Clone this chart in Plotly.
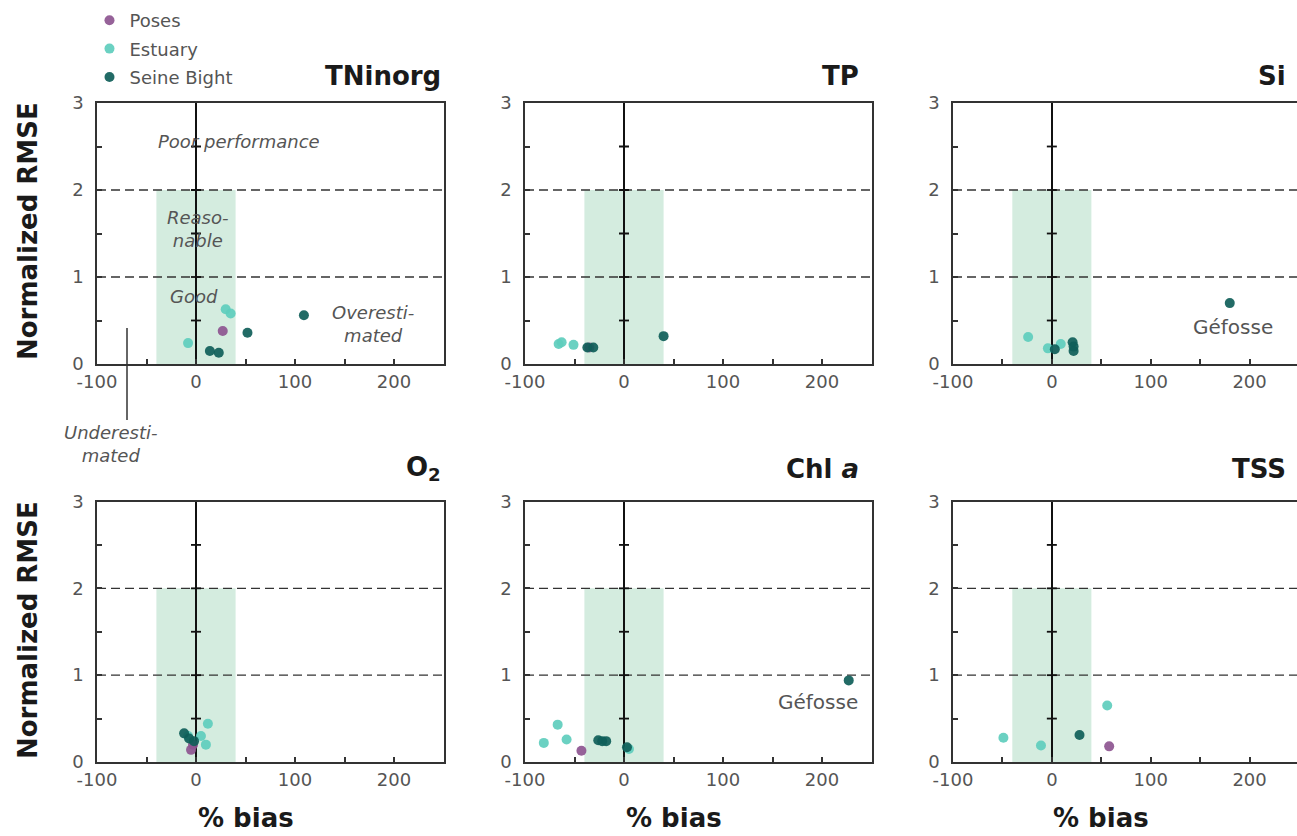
import plotly.graph_objects as go

# ---------------- data ----------------
panels = ["TNinorg", "TP", "Si", "O2", "Chl a", "TSS"]
panel_titles = ["TNinorg", "TP", "Si", "O<sub>2</sub>", "Chl <i>a</i>", "TSS"]

poses_bias = {"TNinorg": [27], "TP": [-35], "Si": [], "O2": [-5, -3], "Chl a": [-43], "TSS": [58]}
poses_rmse = {"TNinorg": [0.38], "TP": [0.19], "Si": [], "O2": [0.14, 0.20], "Chl a": [0.13], "TSS": [0.18]}

estuary_bias = {"TNinorg": [-8, 30, 35], "TP": [-66, -63, -51], "Si": [-24, -4, 9],
                "O2": [-8, 5, 12, 10], "Chl a": [-81, -67, -58, 5], "TSS": [-49, -11, 56]}
estuary_rmse = {"TNinorg": [0.24, 0.63, 0.58], "TP": [0.23, 0.25, 0.22], "Si": [0.31, 0.18, 0.23],
                "O2": [0.30, 0.30, 0.44, 0.20], "Chl a": [0.22, 0.43, 0.26, 0.15], "TSS": [0.28, 0.19, 0.65]}

seine_bias = {"TNinorg": [14, 23, 52, 109], "TP": [-37, -31, 40], "Si": [3, 21, 22, 22, 180],
              "O2": [-12, -7, -2], "Chl a": [-26, -22, -18, 3, 227], "TSS": [28]}
seine_rmse = {"TNinorg": [0.15, 0.13, 0.36, 0.56], "TP": [0.19, 0.19, 0.32], "Si": [0.17, 0.25, 0.20, 0.15, 0.70],
              "O2": [0.33, 0.27, 0.24], "Chl a": [0.25, 0.24, 0.24, 0.17, 0.94], "TSS": [0.31]}

x_ticks = [-100, -50, 0, 50, 100, 150, 200, 250]
x_ticktext = ["-100", " ", "0", " ", "100", " ", "200", " "]
y_ticks = [0, 0.5, 1, 1.5, 2, 2.5, 3]
y_ticktext = ["0", " ", "1", " ", "2", " ", "3"]
minor_y = [0.5, 1, 1.5, 2, 2.5]

colors = {"Poses": "#8d5590", "Estuary": "#5ecdbd", "Seine Bight": "#0f5e59"}
FONT = "DejaVu Sans"
GRAY = "#555555"
W, H = 1297, 836

# ---------------- layout geometry ----------------
col_dom = [[97 / W, 443.5 / W], [525 / W, 871.5 / W], [953 / W, 1.0]]
row_dom = [[1 - 364 / H, 1 - 103 / H], [1 - 762 / H, 1 - 501.5 / H]]
col_range = [[-100, 250], [-100, 250], [-100, 248]]
title_right = [443 / W, 861 / W, 1288 / W]
title_y = [1 - 76 / H, 1 - 469 / H]

fig = go.Figure()
layout = dict(width=W, height=H, margin=dict(l=0, r=0, t=0, b=0, autoexpand=False),
              plot_bgcolor="white", paper_bgcolor="white",
              font=dict(family=FONT, color=GRAY, size=18),
              showlegend=True,
              legend=dict(x=0.069, y=1 - 2 / H, xanchor="left", yanchor="top",
                          font=dict(family=FONT, size=18, color=GRAY),
                          traceorder="grouped",
                          bgcolor="rgba(0,0,0,0)", tracegroupgap=2))
shapes = []
annotations = []

for i, p in enumerate(panels):
    r, c = divmod(i, 3)
    n = i + 1
    xa = "x" if n == 1 else f"x{n}"
    ya = "y" if n == 1 else f"y{n}"
    layout[f"xaxis{'' if n == 1 else n}"] = dict(
        domain=col_dom[c], range=col_range[c], anchor=ya, automargin=False,
        tickvals=x_ticks, ticktext=x_ticktext, ticks="inside", ticklen=5, tickwidth=1.5,
        tickcolor="#333", showline=True, linecolor="#333", linewidth=1.5, mirror=True,
        showgrid=False, zeroline=True, zerolinecolor="#111", zerolinewidth=1.5,
        tickfont=dict(family=FONT, size=18, color=GRAY), ticklabelstandoff=1, fixedrange=True)
    layout[f"yaxis{'' if n == 1 else n}"] = dict(
        domain=row_dom[r], range=[0, 3], anchor=xa, automargin=False,
        tickvals=y_ticks, ticktext=y_ticktext, ticks="inside", ticklen=5, tickwidth=1.5,
        tickcolor="#333", showline=True, linecolor="#333", linewidth=1.5, mirror=(c < 2),
        showgrid=False, zeroline=False,
        tickfont=dict(family=FONT, size=18, color=GRAY), ticklabelstandoff=8, fixedrange=True)

    # green "reasonable" zone
    shapes.append(dict(type="rect", xref=xa, yref=ya, x0=-40, x1=40, y0=0, y1=2,
                       fillcolor="#d4ecdf", line=dict(width=0), layer="below"))
    # dashed thresholds
    for yv in (1, 2):
        shapes.append(dict(type="line", xref=xa, yref=ya, x0=col_range[c][0], x1=col_range[c][1],
                           y0=yv, y1=yv,
                           line=dict(color="#333", width=1.3, dash="9px,5px"), layer="below"))
    # crossing ticks on the zero line
    for yv in minor_y:
        shapes.append(dict(type="line", xref=xa, yref=ya, xsizemode="pixel", xanchor=0,
                           x0=-5, x1=5, y0=yv, y1=yv, line=dict(color="#111", width=1.8),
                           layer="above"))

    for name, bx, ry in (("Poses", poses_bias, poses_rmse),
                         ("Estuary", estuary_bias, estuary_rmse),
                         ("Seine Bight", seine_bias, seine_rmse)):
        fig.add_trace(go.Scatter(x=bx[p], y=ry[p], mode="markers", name=name,
                                 xaxis=xa, yaxis=ya, showlegend=(i == 0), legendgroup=name,
                                 marker=dict(color=colors[name], size=10, opacity=0.92,
                                             line=dict(width=0)),
                                 hoverinfo="x+y"))

    # panel title
    annotations.append(dict(text=f"<b>{panel_titles[i]}</b>", xref="paper", yref="paper",
                            x=title_right[c], y=title_y[r], xanchor="right", yanchor="middle",
                            showarrow=False, font=dict(family=FONT, size=26, color="#1a1a1a")))
    # x title on bottom row
    if r == 1:
        annotations.append(dict(text="<b>% bias</b>", xref=xa, yref="paper", x=50, y=1 - 818 / H,
                                xanchor="center", yanchor="middle", showarrow=False,
                                font=dict(family=FONT, size=26, color="#1a1a1a")))

# y titles
for r, yc in enumerate((231, 630)):
    annotations.append(dict(text="<b>Normalized RMSE</b>", xref="paper", yref="paper",
                            x=28 / W, y=1 - yc / H, textangle=-90, xanchor="center", yanchor="middle",
                            showarrow=False, font=dict(family=FONT, size=26, color="#1a1a1a")))

# explanatory labels in the first panel
ital = dict(family=FONT, size=18, color=GRAY)
for txt, xv, yv in (("<i>Poor performance</i>", 43, 2.56),
                    ("<i>Reaso-<br>nable</i>", 2, 1.55),
                    ("<i>Good</i>", -2, 0.78),
                    ("<i>Overesti-<br>mated</i>", 179, 0.46)):
    annotations.append(dict(text=txt, xref="x", yref="y", x=xv, y=yv, showarrow=False,
                            xanchor="center", yanchor="middle", font=ital))
annotations.append(dict(text="<i>Underesti-<br>mated</i>", xref="paper", yref="paper",
                        x=111 / W, y=1 - 444 / H, showarrow=False, xanchor="center",
                        yanchor="middle", font=ital))
shapes.append(dict(type="line", xref="paper", yref="paper", x0=127 / W, x1=127 / W,
                   y0=1 - 328 / H, y1=1 - 420 / H, line=dict(color="#333", width=1.5)))

# Géfosse labels
annotations.append(dict(text="Géfosse", xref="x3", yref="y3", x=183, y=0.42, showarrow=False,
                        font=dict(family=FONT, size=20, color=GRAY)))
annotations.append(dict(text="Géfosse", xref="x5", yref="y5", x=196, y=0.69, showarrow=False,
                        font=dict(family=FONT, size=20, color=GRAY)))

layout["shapes"] = shapes
layout["annotations"] = annotations
fig.update_layout(**layout)
fig.write_html("out.html", config={"displayModeBar": False},
               post_script="document.body.style.margin='0px';")
